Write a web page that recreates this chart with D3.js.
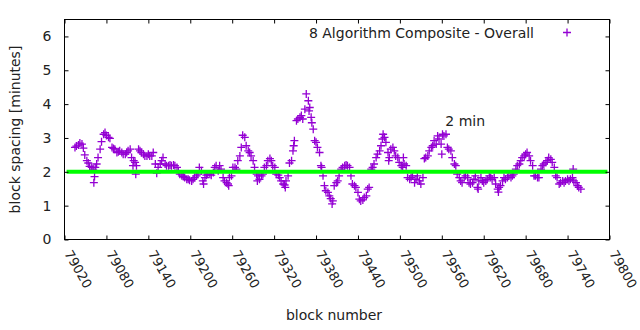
<!DOCTYPE html>
<html><head><meta charset="utf-8">
<script src="https://cdn.jsdelivr.net/npm/d3@7"></script>
<style>body{margin:0;background:#fff}svg{display:block}</style>
</head><body><svg id="c" width="640" height="330"></svg>
<script>
const blocks = [
79035,79037,79040,79042,79045,79047,79049,79052,79054,79056,79059,79061,79062,79063,79064,79066,79068,79071,79073,79076,
79078,79080,79083,79085,79088,79090,79092,79095,79097,79099,79102,79104,79107,79109,79111,79114,79116,79118,79119,79121,
79122,79123,79126,79128,79130,79133,79135,79138,79140,79142,79145,79147,79150,79152,79154,79157,79159,79161,79164,79166,
79169,79171,79173,79176,79178,79181,79183,79185,79188,79190,79192,79195,
79197,79199,79202,79204,79206,79209,79211,79213,79216,79218,79219,79221,79223,79225,79228,79230,79233,79235,79237,79240,
79242,79244,79247,79249,79252,79254,79255,79256,79259,79261,79264,79266,79268,79271,79273,79275,79278,79280,79283,79285,
79287,79290,79292,79295,79296,79297,79299,79302,79304,79306,79309,79311,79314,79316,79318,79321,79323,79326,79328,79330,
79333,79335,79336,79337,79340,79342,79345,79347,79348,79349,79352,79354,79357,79359,79361,79364,79366,79369,79370,79371,
79373,79374,79376,79378,
79380,79382,79385,79387,79388,79390,79392,79394,79397,79399,79401,79403,79404,79406,79409,79411,79413,79416,79418,79421,
79423,79425,79428,79430,79432,79435,79437,79440,79442,79444,79447,79449,79452,79454,79456,79459,79461,79463,79466,79468,
79471,79473,79475,79476,79478,79480,79483,79484,79485,79487,79490,79492,79494,79497,79499,79502,79504,79505,79506,79509,
79511,79514,79516,79518,79521,79523,79525,79528,79530,79533,79535,79537,79540,79542,79545,79547,79549,79552,79554,79556,
79559,79560,79561,
79563,79566,79568,79570,79573,79575,79578,79580,79582,79585,79587,79589,79592,79594,79597,79599,79601,79604,79606,79608,
79611,79612,79613,79616,79618,79620,79623,79625,79628,79630,79632,79635,79637,79640,79641,79642,79644,79647,79649,79651,
79654,79656,79659,79661,79663,79666,79668,79671,79673,79675,79678,79680,79682,79685,79687,79690,79692,79694,79697,79699,
79702,79704,79706,79709,79711,79713,79716,79718,79721,79723,79725,79728,79730,79733,79735,79737,79740,79742,79744,79747,
79748,79749,79752,79754,79756,79759
];
const spacing = [
2.72,2.76,2.79,2.85,2.82,2.70,2.50,2.33,2.26,2.16,2.13,2.08,1.68,1.86,2.13,2.23,2.42,2.67,2.89,3.11,
3.16,3.07,3.02,2.99,2.72,2.69,2.67,2.57,2.59,2.62,2.57,2.52,2.52,2.57,2.62,2.67,2.42,2.18,2.33,2.28,
1.93,2.18,2.67,2.62,2.57,2.52,2.47,2.47,2.52,2.47,2.47,2.57,2.23,1.96,2.13,2.23,2.33,2.42,2.23,2.18,
2.18,2.20,2.18,2.20,2.18,2.13,2.03,1.93,1.88,1.86,1.83,1.78,
1.78,1.75,1.73,1.78,1.83,1.88,1.93,2.13,2.03,1.73,1.64,1.83,1.90,1.93,1.93,1.90,1.98,2.13,2.18,2.03,
2.18,2.08,1.83,1.73,1.68,1.64,1.59,1.83,1.88,2.13,2.13,2.08,2.33,2.47,2.72,3.08,3.02,2.77,2.62,2.57,
2.47,2.33,2.13,1.93,1.73,1.88,1.78,1.88,1.93,2.13,2.18,2.33,2.39,2.33,2.18,2.13,1.93,1.90,1.83,1.73,
1.64,1.61,1.54,1.73,1.88,2.26,2.33,2.62,2.77,2.92,3.51,3.56,3.61,3.66,3.56,3.85,4.30,4.10,3.80,3.90,
3.61,3.45,3.26,2.92,
2.87,2.72,2.57,2.18,2.13,1.88,1.59,1.44,1.39,1.29,1.21,1.05,1.14,1.59,1.68,1.73,1.88,2.08,2.13,2.18,
2.20,2.18,2.13,1.88,1.64,1.59,1.54,1.39,1.19,1.14,1.17,1.24,1.29,1.49,1.54,2.08,2.13,2.23,2.42,2.52,
2.62,2.77,2.97,3.11,3.02,2.87,2.57,2.33,2.42,2.67,2.72,2.62,2.47,2.42,2.28,2.18,2.13,2.42,2.23,2.18,
1.83,1.78,1.83,1.88,1.68,1.78,1.88,1.73,1.64,1.83,2.39,2.42,2.47,2.62,2.72,2.77,2.92,2.82,3.06,2.97,
2.82,2.52,3.11,
3.06,3.11,2.72,2.67,2.62,2.42,2.23,2.18,1.93,1.83,1.73,1.68,1.83,1.88,1.83,1.68,1.64,1.68,1.78,1.88,
1.54,1.49,1.73,1.83,1.73,1.68,1.73,1.78,1.88,1.83,1.78,1.83,1.64,1.49,1.40,1.54,1.59,1.73,1.83,1.78,
1.83,1.88,1.83,1.88,1.93,2.08,2.18,2.23,2.33,2.42,2.47,2.52,2.57,2.47,2.33,2.18,1.88,1.88,1.83,1.83,
2.08,2.18,2.23,2.28,2.33,2.42,2.37,2.28,2.13,1.88,1.83,1.64,1.68,1.73,1.68,1.73,1.78,1.73,1.78,1.83,
2.08,1.73,1.68,1.59,1.54,1.49
];
const xTicks = [79020,79080,79140,79200,79260,79320,79380,79440,79500,79560,79620,79680,79740,79800];
const yTicks = [0,1,2,3,4,5,6];
const xDomain = [79020, 79800];
const yDomain = [0, 6.5];
const seriesLabel = "8 Algorithm Composite - Overall";
const refValue = 2;
const refRange = [79023, 79797];
const refLabel = "2 min";
const refLabelPos = [79565, 3.5];
const xTitle = "block number";
const yTitle = "block spacing [minutes]";

const FONT = "'DejaVu Sans', sans-serif";
const PURPLE = "#9400d3";
const m = {l: 64.5, r: 609.5, t: 19.5, b: 239.5};
const svg = d3.select("#c");
const x = d3.scaleLinear().domain(xDomain).range([m.l, m.r]);
const y = d3.scaleLinear().domain(yDomain).range([m.b, m.t]);
const cross = "M-4,0H4M0,-4V4";

// points
const pts = blocks.map((b, i) => ({b, v: spacing[i]}));
svg.append("g").selectAll("path").data(pts).join("path")
  .attr("d", cross)
  .attr("transform", d => `translate(${x(d.b)},${y(d.v)})`)
  .attr("stroke", PURPLE).attr("stroke-width", 1.3).attr("fill", "none");

// reference line
svg.append("line")
  .attr("x1", x(refRange[0])).attr("x2", x(refRange[1]))
  .attr("y1", y(refValue)).attr("y2", y(refValue))
  .attr("stroke", "#00ff00").attr("stroke-width", 4);

// axes
function style(g) {
  g.select(".domain").remove();
  g.selectAll("line").attr("stroke", "#000");
  g.attr("font-family", FONT).attr("font-size", 14);
  g.selectAll("text").attr("fill", "#222");
}
svg.append("g").attr("transform", `translate(0,${m.b})`)
  .call(d3.axisBottom(x).tickValues(xTicks).tickSizeInner(-4).tickSizeOuter(0).tickFormat(d3.format("d")))
  .call(style)
  .call(g => g.selectAll("text").attr("x", 0).attr("y", 0).attr("dy", 0)
    .attr("font-size", 13)
    .attr("text-anchor", "start").attr("transform", "translate(-1,14) rotate(60)"));
svg.append("g").attr("transform", `translate(0,${m.t})`)
  .call(d3.axisTop(x).tickValues(xTicks).tickSizeInner(-4).tickSizeOuter(0).tickFormat(""))
  .call(style);
svg.append("g").attr("transform", `translate(${m.l},0)`)
  .call(d3.axisLeft(y).tickValues(yTicks).tickSizeInner(-4).tickSizeOuter(0).tickPadding(13).tickFormat(d3.format("d")))
  .call(style);
svg.append("g").attr("transform", `translate(${m.r},0)`)
  .call(d3.axisRight(y).tickValues(yTicks).tickSizeInner(-4).tickSizeOuter(0).tickFormat(""))
  .call(style);

// frame
svg.append("rect").attr("x", m.l).attr("y", m.t).attr("width", m.r - m.l).attr("height", m.b - m.t)
  .attr("fill", "none").attr("stroke", "#000").attr("stroke-width", 1);

// titles
svg.append("text").attr("x", (m.l + m.r) / 2 - 3).attr("y", 320)
  .attr("text-anchor", "middle").attr("font-family", FONT).attr("font-size", 14).attr("fill", "#222")
  .text(xTitle);
svg.append("text").attr("transform", `translate(20,${(m.t + m.b) / 2}) rotate(-90)`)
  .attr("text-anchor", "middle").attr("font-family", FONT).attr("font-size", 14).attr("fill", "#222")
  .text(yTitle);

// reference label
svg.append("text").attr("x", x(refLabelPos[0])).attr("y", y(refLabelPos[1]) + 5)
  .attr("font-family", FONT).attr("font-size", 14).attr("fill", "#222")
  .text(refLabel);

// legend
svg.append("text").attr("x", 534).attr("y", 37.5).attr("text-anchor", "end")
  .attr("font-family", FONT).attr("font-size", 14).attr("fill", "#222")
  .text(seriesLabel);
svg.append("path").attr("d", cross).attr("transform", "translate(567,32.5)")
  .attr("stroke", PURPLE).attr("stroke-width", 1.3).attr("fill", "none");
</script></body></html>
